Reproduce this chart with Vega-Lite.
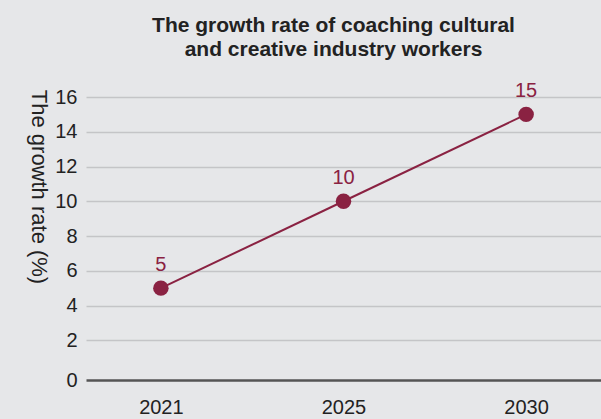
{
  "$schema": "https://vega.github.io/schema/vega-lite/v6.json",
  "autosize": "none",
  "width": 515,
  "height": 278,
  "padding": {"left": 86, "top": 97, "right": 0, "bottom": 44},
  "background": "#e6e7e9",
  "config": {
    "view": {"stroke": null},
    "font": "Liberation Sans"
  },
  "title": {
    "text": ["The growth rate of coaching cultural", "and creative industry workers"],
    "font": "Liberation Sans",
    "fontSize": 21,
    "fontWeight": "bold",
    "color": "#222222",
    "anchor": "middle",
    "frame": "group",
    "offset": 21,
    "lineHeight": 24,
    "dx": -10
  },
  "data": {
    "values": [
      {"year": "2021", "rate": 5},
      {"year": "2025", "rate": 10},
      {"year": "2030", "rate": 15}
    ]
  },
  "encoding": {
    "x": {
      "field": "year",
      "type": "ordinal",
      "scale": {"type": "point", "padding": 0.41},
      "axis": {
        "title": null,
        "labelAngle": 0,
        "offset": 5,
        "domainColor": "#555555",
        "domainWidth": 2.5,
        "ticks": false,
        "labelPadding": 17,
        "labelFontSize": 20,
        "labelColor": "#222222",
        "labelFont": "Liberation Sans",
        "grid": false
      }
    },
    "y": {
      "field": "rate",
      "type": "quantitative",
      "scale": {"domain": [0, 16], "nice": false},
      "axis": {
        "title": "The growth rate (%)",
        "titleAngle": 90,
        "titleX": -48,
        "titleY": 89.5,
        "titleAlign": "center",
        "titleBaseline": "middle",
        "titleFontSize": 22,
        "titleFontWeight": "normal",
        "titleColor": "#222222",
        "titleFont": "Liberation Sans",
        "values": [0, 2, 4, 6, 8, 10, 12, 14, 16],
        "domain": false,
        "ticks": false,
        "labelPadding": 9,
        "labelFontSize": 20,
        "labelColor": "#222222",
        "labelFont": "Liberation Sans",
        "labelOffset": {"condition": {"test": "datum.value == 0", "value": 5}, "value": 0},
        "grid": true,
        "gridColor": "#c4c5c7",
        "gridWidth": 1.5,
        "gridOpacity": {"condition": {"test": "datum.value == 0", "value": 0}, "value": 1}
      }
    }
  },
  "layer": [
    {"mark": {"type": "line", "color": "#8a2242", "strokeWidth": 2}},
    {"mark": {"type": "point", "filled": true, "color": "#8a2242", "opacity": 1, "size": 240}},
    {
      "mark": {"type": "text", "color": "#8a2242", "fontSize": 20, "dy": -23, "font": "Liberation Sans"},
      "encoding": {"text": {"field": "rate", "type": "quantitative"}}
    }
  ]
}
